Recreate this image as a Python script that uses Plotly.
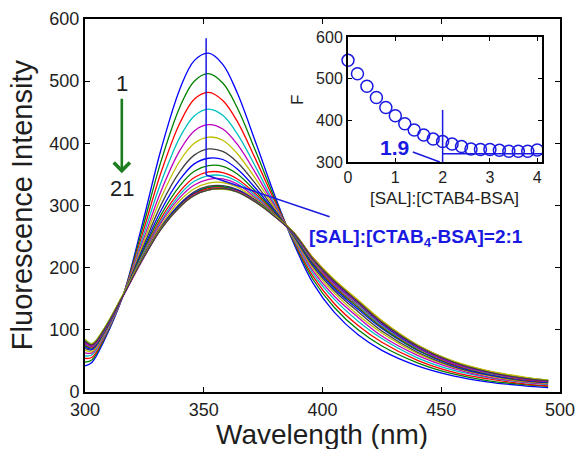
import plotly.graph_objects as go

# Emission wavelengths (nm) at which each spectrum is sampled
wavelength = [300, 303, 308, 316, 324, 332, 340, 346, 352, 358, 364, 372,
              380, 388, 396, 405, 415, 425, 440, 455, 470, 485, 495]

# Fluorescence intensity of the 21 titration spectra (1 = no SAL ... 21 = highest SAL)
s01 = [42, 48, 82, 155, 268, 390, 488, 533, 545, 527, 482, 400, 315, 238, 175, 128, 92, 67, 42, 26, 16, 10, 7]
s02 = [48, 52, 85, 155, 260, 371, 459, 500, 512, 497, 458, 386, 310, 241, 181, 136, 100, 74, 47, 29, 18, 12, 9]
s03 = [54, 56, 87, 155, 252, 353, 433, 471, 482, 469, 436, 373, 306, 243, 186, 142, 107, 80, 51, 32, 21, 13, 10]
s04 = [58, 60, 89, 155, 245, 337, 410, 444, 455, 445, 416, 361, 301, 245, 191, 149, 114, 86, 55, 35, 23, 15, 12]
s05 = [63, 63, 91, 155, 239, 323, 389, 420, 430, 423, 399, 351, 298, 247, 195, 154, 120, 90, 59, 38, 24, 16, 13]
s06 = [67, 65, 93, 155, 234, 312, 372, 400, 410, 405, 384, 342, 295, 248, 199, 159, 124, 95, 62, 40, 26, 17, 14]
s07 = [70, 68, 95, 155, 229, 301, 355, 381, 391, 387, 370, 334, 292, 250, 202, 163, 129, 98, 64, 41, 27, 18, 15]
s08 = [73, 69, 96, 155, 225, 292, 342, 367, 376, 374, 359, 327, 290, 251, 205, 166, 133, 102, 67, 43, 28, 19, 15]
s09 = [75, 71, 97, 155, 222, 285, 332, 355, 364, 363, 351, 322, 288, 252, 207, 169, 136, 104, 68, 44, 29, 20, 16]
s10 = [77, 72, 98, 155, 219, 279, 323, 345, 354, 353, 343, 318, 286, 253, 209, 171, 138, 106, 70, 45, 30, 20, 17]
s11 = [78, 73, 98, 155, 218, 275, 318, 339, 348, 348, 339, 315, 285, 253, 210, 173, 139, 107, 71, 46, 30, 21, 17]
s12 = [79, 74, 99, 155, 216, 272, 313, 333, 342, 343, 335, 312, 285, 254, 211, 174, 141, 109, 72, 46, 31, 21, 17]
s13 = [80, 75, 99, 155, 215, 268, 308, 327, 336, 337, 330, 310, 284, 254, 212, 176, 142, 110, 72, 47, 31, 21, 18]
s14 = [81, 75, 100, 155, 214, 265, 303, 322, 331, 332, 326, 308, 283, 255, 213, 177, 144, 111, 73, 47, 32, 22, 18]
s15 = [80, 75, 99, 154, 214, 265, 302, 320, 329, 330, 325, 307, 283, 254, 213, 176, 143, 110, 72, 47, 31, 21, 17]
s16 = [83, 77, 101, 156, 213, 264, 300, 319, 329, 330, 324, 307, 284, 256, 215, 179, 146, 113, 75, 49, 33, 23, 19]
s17 = [82, 76, 100, 155, 212, 263, 299, 318, 327, 328, 323, 306, 283, 256, 216, 180, 147, 114, 75, 49, 33, 23, 18]
s18 = [84, 78, 101, 156, 212, 262, 298, 316, 325, 327, 322, 306, 283, 255, 214, 178, 145, 112, 74, 48, 32, 22, 18]
s19 = [80, 74, 99, 154, 211, 262, 298, 317, 325, 327, 323, 306, 282, 254, 213, 177, 144, 111, 73, 47, 31, 21, 17]
s20 = [85, 78, 102, 157, 213, 263, 298, 316, 325, 326, 322, 305, 283, 256, 216, 181, 148, 115, 76, 50, 34, 24, 19]
s21 = [82, 76, 100, 155, 212, 262, 298, 316, 325, 327, 322, 305, 282, 255, 214, 178, 145, 112, 74, 48, 32, 22, 18]
spectra = [s01, s02, s03, s04, s05, s06, s07, s08, s09, s10, s11,
           s12, s13, s14, s15, s16, s17, s18, s19, s20, s21]

# Inset: peak fluorescence F versus molar ratio [SAL]:[CTAB4-BSA]
ratio = [0.0, 0.2, 0.4, 0.6, 0.8, 1.0, 1.2, 1.4, 1.6, 1.8, 2.0,
         2.2, 2.4, 2.6, 2.8, 3.0, 3.2, 3.4, 3.6, 3.8, 4.0]
peak_f = [544, 512, 482, 455, 431, 411, 392, 377, 365, 355, 349,
          343, 337, 331, 330, 330, 328, 326, 326, 326, 329]
breakpoint_ratio = 1.9

main_xticks = [300, 350, 400, 450, 500]
main_yticks = [0, 100, 200, 300, 400, 500, 600]
inset_xticks = [0, 1, 2, 3, 4]
inset_yticks = [300, 400, 500, 600]

# Classic MATLAB line colour cycle
cycle = ["rgb(0,0,255)", "rgb(0,128,0)", "rgb(255,0,0)", "rgb(0,191,191)",
         "rgb(191,0,191)", "rgb(191,191,0)", "rgb(64,64,64)"]

FONT = "Liberation Sans, Arial, sans-serif"
BLUE = "rgb(25,25,225)"
TXT = "rgb(30,30,30)"

fig = go.Figure()

for i, ys in enumerate(spectra):
    fig.add_trace(go.Scatter(
        x=wavelength, y=ys, mode="lines",
        line=dict(color=cycle[i % len(cycle)], width=1.3, shape="spline", smoothing=1.0),
        xaxis="x", yaxis="y", showlegend=False, hoverinfo="skip"))

fig.add_trace(go.Scatter(
    x=ratio, y=peak_f, mode="markers",
    marker=dict(symbol="circle-open", size=12, color=BLUE, line=dict(width=1.5, color=BLUE)),
    xaxis="x2", yaxis="y2", showlegend=False, cliponaxis=False))

axis_common = dict(showline=True, linecolor="black", linewidth=2, mirror="ticks",
                   ticks="inside", tickcolor="black", tickwidth=1, showgrid=False,
                   zeroline=False, color=TXT, ticklabeloverflow="allow", automargin=False)

fig.update_layout(
    width=575, height=449,
    margin=dict(l=85, r=15, t=19, b=57, autoexpand=False),
    paper_bgcolor="white", plot_bgcolor="white",
    font=dict(family=FONT, color=TXT),
    xaxis=dict(range=[300, 500], tickvals=main_xticks, ticklen=5,
               tickfont=dict(size=18, family=FONT), domain=[0, 1], **axis_common),
    yaxis=dict(range=[0, 600], tickvals=main_yticks, ticklen=5,
               tickfont=dict(size=18, family=FONT), domain=[0, 1], **axis_common),
    xaxis2=dict(range=[0, 4.1], tickvals=inset_xticks, ticklen=4, anchor="y2",
                domain=[0.5537, 0.962], tickfont=dict(size=16, family=FONT), **axis_common),
    yaxis2=dict(range=[300, 600], tickvals=inset_yticks, ticklen=4, anchor="x2",
                domain=[0.6166, 0.9517], tickfont=dict(size=16, family=FONT), **axis_common),
)

# Guide lines in the main panel marking the 2:1 spectrum
fig.add_shape(type="line", xref="x", yref="y", x0=351, y0=349, x1=351, y1=569,
              line=dict(color=BLUE, width=1.5))
fig.add_shape(type="line", xref="x", yref="y", x0=351, y0=349, x1=403, y1=282,
              line=dict(color=BLUE, width=1.5))

# Break-point construction in the inset
fig.add_shape(type="line", xref="x2", yref="y2", x0=2.0, y0=300, x1=2.0, y1=425,
              line=dict(color=BLUE, width=1.5))
fig.add_shape(type="line", xref="x2", yref="y2", x0=2.0, y0=320, x1=4.1, y1=320,
              line=dict(color=BLUE, width=1.5))
fig.add_shape(type="line", xref="x2", yref="y2", x0=1.37, y0=324, x1=breakpoint_ratio + 0.04, y1=300,
              line=dict(color=BLUE, width=1.5))

annotations = [
    dict(text="Fluorescence Intensity", xref="paper", yref="paper", x=-0.1326, y=0.501,
         textangle=-90, showarrow=False, font=dict(size=29, family=FONT, color=TXT),
         xanchor="center", yanchor="middle"),
    dict(text="Wavelength (nm)", xref="paper", yref="paper", x=0.499, y=-0.114,
         showarrow=False, font=dict(size=28, family=FONT, color=TXT),
         xanchor="center", yanchor="middle"),
    dict(text="F", xref="paper", yref="paper", x=0.4484, y=0.783, textangle=-90,
         showarrow=False, font=dict(size=17, family=FONT, color=TXT),
         xanchor="center", yanchor="middle"),
    dict(text="[SAL]:[CTAB4-BSA]", xref="paper", yref="paper", x=0.7558, y=0.520,
         showarrow=False, font=dict(size=17, family=FONT, color=TXT),
         xanchor="center", yanchor="middle"),
    dict(text=f"<b>{breakpoint_ratio}</b>", xref="x2", yref="y2", x=0.99, y=336,
         showarrow=False, font=dict(size=21, family=FONT, color=BLUE),
         xanchor="center", yanchor="middle"),
    dict(text="<b>[SAL]:[CTAB<sub>4</sub>-BSA]=2:1</b>", xref="paper", yref="paper",
         x=0.697, y=0.413, showarrow=False, font=dict(size=19, family=FONT, color=BLUE),
         xanchor="center", yanchor="middle"),
    dict(text="1", xref="x", yref="y", x=315.5, y=496, showarrow=False,
         font=dict(size=22, family=FONT, color=TXT), xanchor="center", yanchor="middle"),
    dict(text="21", xref="x", yref="y", x=315.5, y=328, showarrow=False,
         font=dict(size=22, family=FONT, color=TXT), xanchor="center", yanchor="middle"),
    dict(text="", xref="x", yref="y", x=315.5, y=352, axref="x", ayref="y",
         ax=315.5, ay=474, showarrow=True, arrowhead=4, arrowsize=1.2,
         arrowwidth=2.6, arrowcolor="rgb(30,125,30)"),
]
fig.update_layout(annotations=annotations)

fig.write_html("out.html")
